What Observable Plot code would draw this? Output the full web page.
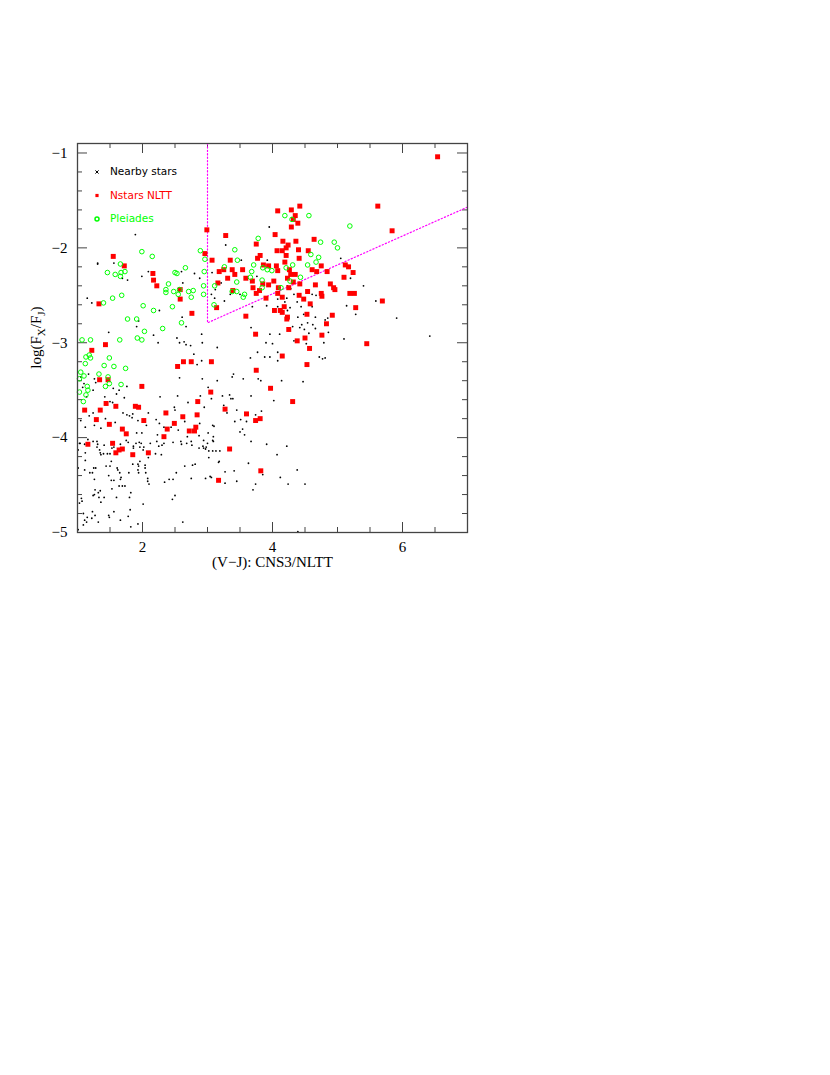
<!DOCTYPE html>
<html><head><meta charset="utf-8">
<script src="https://cdn.jsdelivr.net/npm/d3@7"></script>
<script src="https://cdn.jsdelivr.net/npm/@observablehq/plot@0.6"></script>
<style>
body{margin:0;background:#fff;}
#chart{position:absolute;left:0;top:0;}
</style></head><body><div id="chart"></div>
<script>
// ---- data: [V-J, log(Fx/FJ)] ----
const nearbyStars = [
[1.03,-4.06],[1.11,-4.07],[1.24,-4.04],[1.30,-4.10],[1.31,-4.07],[1.34,-4.13],[1.35,-4.16],[1.36,-4.18],[1.40,-4.17],[1.46,-4.17],[1.50,-4.17],[1.53,-4.11],[1.56,-4.10],[1.66,-4.07],[1.78,-4.05],[1.86,-4.09],[1.90,-4.06],[1.95,-4.05],[1.96,-4.10],[2.02,-4.10],[2.01,-4.13],[2.09,-4.21],[2.22,-4.04],[2.20,-4.17],[2.30,-4.08],[2.29,-4.18],[2.60,-4.07],[2.68,-4.06],[2.75,-4.04],[2.76,-4.08],[2.93,-4.09],[2.94,-4.11],[2.97,-4.12],[3.02,-4.14],[3.09,-4.04],[3.08,-4.14],[3.13,-4.14],[3.19,-4.14],[1.12,-4.16],[1.01,-4.13],
[1.12,-4.24],[1.25,-4.32],[1.28,-4.32],[1.11,-4.34],[1.44,-4.30],[1.50,-4.30],[1.52,-4.25],[1.61,-4.32],[1.62,-4.34],[1.65,-4.37],[1.85,-4.28],[1.94,-4.30],[1.93,-4.34],[1.94,-4.37],[1.96,-4.25],[2.04,-4.29],[2.04,-4.32],[2.05,-4.37],[1.79,-4.37],[1.93,-4.28],[2.65,-4.30],[2.77,-4.29],[2.81,-4.28],[3.18,-4.25],[3.17,-4.26],[3.27,-4.36],[1.01,-4.32],[1.19,-4.37],[1.23,-4.37],
[1.26,-4.44],[1.48,-4.40],[1.52,-4.45],[1.56,-4.45],[1.67,-4.42],[1.66,-4.44],[1.64,-4.51],[1.69,-4.51],[1.73,-4.51],[2.08,-4.43],[2.08,-4.46],[2.10,-4.49],[2.34,-4.47],[2.41,-4.44],[2.47,-4.44],[2.52,-4.37],[2.75,-4.43],[2.97,-4.43],[3.04,-4.41],[3.06,-4.42],[3.27,-4.48],[1.53,-4.54],[1.27,-4.55],[1.32,-4.58],[1.35,-4.56],
[1.26,-4.60],[1.24,-4.61],[1.33,-4.63],[1.41,-4.63],[1.60,-4.63],[1.80,-4.63],[1.82,-4.58],[1.06,-4.64],[1.07,-4.67],[1.03,-4.69],[1.36,-4.68],[2.50,-4.61],[2.46,-4.65],[2.01,-4.70],
[1.23,-4.78],[1.09,-4.80],[1.27,-4.82],[1.11,-4.87],[1.14,-4.89],[1.15,-4.84],[1.22,-4.85],[1.32,-4.89],[1.56,-4.78],[1.48,-4.82],[1.49,-4.84],[1.66,-4.87],[1.78,-4.83],[1.81,-4.76],[1.93,-4.91],[1.82,-4.94],[1.09,-4.92],[1.01,-4.97],[2.62,-4.89],
[3.02,-4.21],[3.41,-4.35],[3.45,-4.46],[3.63,-4.27],[3.67,-4.04],[3.91,-4.07],[4.07,-4.18],[4.22,-4.09],[3.85,-4.39],[4.12,-4.42],[4.24,-4.49],[4.38,-4.34],[4.50,-4.49],[3.74,-4.49],[3.70,-4.55],[4.39,-4.99],
[3.40,-3.33],[3.38,-3.36],[3.55,-3.38],[3.78,-3.38],[3.82,-3.40],[4.14,-3.40],[4.47,-3.41],[3.23,-3.56],[3.34,-3.55],[3.36,-3.59],[3.39,-3.59],[3.67,-3.56],[4.02,-3.61],[3.25,-3.66],[3.30,-3.74],[3.45,-3.71],[3.83,-3.72],[3.74,-3.76],[3.42,-3.83],[3.51,-3.81],[3.60,-3.83],[3.08,-3.87],[3.54,-3.91],[3.50,-3.94],[3.57,-3.97],[3.08,-4.03],[3.06,-3.59],
[1.31,-2.17],[1.69,-2.32],[1.77,-2.34],[1.99,-2.30],[2.09,-2.25],[2.60,-2.25],[2.62,-2.37],[2.80,-2.27],[1.15,-2.53],[1.22,-2.58],[2.26,-2.66],[1.94,-2.77],[1.91,-2.83],[2.24,-3.00],[1.48,-2.89],[2.17,-2.92],[2.67,-3.02],[2.53,-2.95],[2.57,-3.00],[2.79,-3.12],[2.91,-3.19],[2.57,-3.37],[2.92,-3.38],[1.17,-3.33],[1.26,-3.38],[1.28,-3.42],[1.05,-3.36],[1.10,-3.43],[1.24,-3.50],[1.14,-3.57],[1.08,-3.47],[1.55,-3.48],[1.64,-3.50],[1.60,-3.54],[1.76,-3.46],[1.42,-3.57],[1.72,-3.58],[1.50,-3.62],[1.54,-3.63],[1.70,-3.74],[1.24,-3.74],[1.18,-3.77],[1.85,-3.75],[1.76,-3.76],[1.80,-3.77],[1.84,-3.79],[2.09,-3.74],[2.21,-3.81],[2.26,-3.85],[1.93,-3.82],[2.06,-3.87],[1.43,-3.80],[1.26,-3.87],[1.05,-3.82],[1.12,-3.89],[1.36,-3.90],[1.58,-3.84],[2.33,-3.89],[2.44,-3.89],[1.91,-3.95],[1.99,-3.95],[2.23,-3.97],[2.55,-3.92],[2.69,-3.99],[2.87,-3.98],[2.94,-4.03],[1.75,-4.03],[1.98,-4.06],[2.12,-4.06],[1.16,-4.02],[1.04,-4.06],[1.30,-4.04],[1.41,-4.08],[1.86,-4.11],[2.25,-4.09],[2.33,-4.06],[2.47,-4.05],[2.59,-4.04],[2.87,-4.11],[2.98,-4.10],[3.00,-4.06],[3.09,-3.99],[2.49,-3.68],[2.50,-3.71],[2.65,-3.83],[2.88,-3.85],[3.01,-3.95],[3.10,-3.88],[2.27,-3.57],[2.54,-3.56],[2.70,-3.63],[2.89,-3.56],[2.95,-3.68],[3.01,-3.47],[3.15,-3.40],
[3.95,-1.78],[3.28,-1.97],[3.92,-2.13],[3.52,-2.13],[3.76,-2.30],[2.88,-2.32],[3.07,-2.26],[3.21,-2.37],[3.12,-2.44],[3.11,-2.53],[3.26,-2.56],[3.06,-2.49],[3.35,-2.49],[3.50,-2.49],[3.69,-2.62],[3.91,-2.61],[4.08,-2.54],[4.22,-2.53],[4.33,-2.49],[4.11,-2.42],[4.28,-2.43],[4.23,-2.40],[4.61,-2.49],[4.67,-2.50],[4.08,-2.62],[4.19,-2.57],[4.27,-2.63],[4.38,-2.57],[4.44,-2.62],[4.61,-2.62],[4.23,-2.66],[4.39,-2.73],[4.48,-2.70],[4.66,-2.73],[4.54,-2.79],[4.62,-2.81],[4.81,-2.76],[4.85,-2.74],[5.14,-2.61],[5.20,-2.32],[5.05,-2.11],[5.40,-2.40],[5.59,-2.56],[3.96,-2.91],[4.11,-2.91],[4.31,-2.83],[4.42,-2.84],[4.45,-2.81],[4.49,-2.86],[4.56,-2.90],[4.66,-2.85],[4.86,-2.89],[4.79,-3.00],[4.52,-3.01],[4.33,-2.98],[4.00,-3.01],[3.90,-3.00],[3.67,-2.84],[2.91,-2.91],[2.67,-2.83],[2.61,-2.73],[2.74,-3.03],[3.15,-3.05],[2.92,-3.00],[3.77,-3.10],[4.08,-3.10],[4.72,-3.15],[4.77,-3.17],[4.81,-3.16],[3.66,-3.16],[3.88,-3.15],[3.96,-3.15],[2.84,-3.23],[2.64,-2.99],[5.10,-2.96],[5.28,-2.70],[4.08,-3.19],
[1.89,-1.86],[1.31,-2.16],[1.56,-2.16],[5.91,-2.74],[6.42,-2.93]
];
const nstarsNltt = [
[4.42,-1.56],[4.29,-1.60],[4.08,-1.61],[4.35,-1.66],[4.32,-1.70],[4.39,-1.74],[4.29,-1.78],[2.99,-1.81],[3.28,-1.87],[4.04,-1.86],[4.64,-1.91],[4.16,-1.93],[4.36,-1.93],[3.75,-1.96],[4.24,-1.97],[4.21,-2.00],[4.07,-2.03],[4.15,-2.03],[4.40,-2.02],[4.55,-2.03],[2.96,-2.06],[3.81,-2.08],[4.21,-2.08],[3.77,-2.11],[4.41,-2.11],[4.19,-2.15],[3.07,-2.13],[3.35,-2.13],[3.86,-2.18],[3.94,-2.19],[4.06,-2.19],[4.75,-2.19],[5.12,-2.18],[5.17,-2.20],[3.25,-2.23],[3.38,-2.23],[3.54,-2.23],[4.61,-2.23],[4.68,-2.25],[4.84,-2.25],[5.24,-2.26],[4.26,-2.23],[4.08,-2.24],[3.18,-2.25],[3.42,-2.28],[4.28,-2.28],[4.35,-2.28],[4.23,-2.32],[3.59,-2.32],[5.10,-2.31],[3.69,-2.35],[4.02,-2.35],[4.32,-2.36],[4.42,-2.38],[3.85,-2.38],[3.16,-2.37],[3.31,-2.32],[3.70,-2.42],[3.94,-2.39],[4.25,-2.42],[4.66,-2.39],[4.89,-2.38],[4.94,-2.42],[4.96,-2.44],[3.39,-2.45],[3.80,-2.45],[4.09,-2.42],[4.08,-2.48],[4.54,-2.46],[4.41,-2.50],[4.75,-2.48],[4.76,-2.51],[5.19,-2.48],[5.26,-2.48],[4.15,-2.52],[4.48,-2.54],[3.90,-2.53],[3.75,-2.48],[4.58,-2.59],[4.18,-2.62],[5.28,-2.63],[3.14,-2.63],[4.03,-2.66],[4.12,-2.66],[4.15,-2.68],[4.53,-2.70],[4.92,-2.71],[4.23,-2.73],[4.22,-2.75],[2.76,-2.69],[3.59,-2.72],[4.83,-2.80],[4.25,-2.86],[3.74,-2.91],[4.76,-2.92],[4.50,-2.95],[4.38,-2.98],[4.57,-3.06],[5.45,-3.01],[4.15,-3.14],[3.06,-3.20],[2.75,-3.20],[2.63,-3.20],[4.53,-3.23],[3.75,-3.29],
[1.55,-2.09],[1.72,-2.19],[2.16,-2.27],[2.17,-2.34],[2.22,-2.40],[2.58,-2.44],[2.58,-2.54],[1.33,-2.59],[1.43,-3.02],[1.22,-3.08],[2.54,-3.25],[1.34,-3.39],[1.47,-3.39],[1.99,-3.46],[3.05,-3.52],[2.85,-3.62],[1.44,-3.64],[1.59,-3.67],[1.89,-3.67],[1.94,-3.68],[1.11,-3.71],[1.35,-3.71],[2.36,-3.74],[2.62,-3.78],[2.84,-3.76],[2.02,-3.82],[1.29,-3.81],[1.49,-3.86],[2.49,-3.85],[2.38,-3.91],[1.69,-3.91],[2.82,-3.89],[2.72,-3.93],[2.80,-3.93],[1.75,-3.96],[2.33,-3.99],[1.16,-4.07],[1.54,-4.06],[1.69,-4.12],[1.64,-4.13],
[1.59,-4.16],[1.85,-4.18],[2.09,-4.16],[3.17,-4.45],
[3.97,-3.48],[4.31,-3.62],[3.27,-3.70],[3.60,-3.75],[3.81,-3.80],[3.74,-3.82],[3.34,-4.12],[3.82,-4.35],
[5.62,-1.56],[5.84,-1.82],[5.69,-2.56],[6.54,-1.04]
];
const pleiades = [
[1.99,-2.04],[2.15,-2.09],[1.66,-2.17],[1.46,-2.26],[1.58,-2.28],[1.66,-2.30],[1.73,-2.25],[1.67,-2.26],[2.50,-2.26],[2.53,-2.27],[2.40,-2.38],[2.36,-2.44],[2.36,-2.47],[2.48,-2.46],[2.55,-2.49],[2.57,-2.44],[1.68,-2.50],[1.54,-2.53],[1.40,-2.58],[2.01,-2.61],[2.17,-2.66],[2.46,-2.62],[1.77,-2.75],[1.91,-2.75],[2.31,-2.85],[2.03,-2.88],[1.92,-2.95],[1.99,-2.97],[1.65,-2.97],[1.07,-2.97],[1.20,-2.97],[1.13,-3.15],[1.18,-3.13],[1.20,-3.16],[1.12,-3.22],[1.49,-3.16],[1.41,-3.24],[1.56,-3.25],[1.74,-3.27],[1.05,-3.31],[1.33,-3.33],[1.10,-3.35],[1.03,-3.38],[1.47,-3.36],[1.49,-3.43],[1.67,-3.44],[1.43,-3.46],[1.15,-3.46],[1.16,-3.50],[1.03,-3.52],[1.13,-3.55],[1.09,-3.62],
[4.19,-1.66],[4.56,-1.66],[4.30,-1.70],[5.19,-1.77],[4.74,-1.94],[4.95,-1.94],[5.00,-2.00],[3.78,-1.90],[3.42,-2.02],[2.89,-2.03],[2.96,-2.12],[3.46,-2.13],[4.59,-2.07],[4.71,-2.10],[4.67,-2.15],[4.54,-2.18],[4.31,-2.18],[4.21,-2.21],[3.71,-2.18],[3.85,-2.21],[3.92,-2.23],[3.99,-2.24],[3.68,-2.25],[3.26,-2.20],[2.95,-2.25],[2.66,-2.21],[3.66,-2.31],[3.45,-2.36],[3.11,-2.40],[2.94,-2.40],[3.84,-2.34],[3.84,-2.42],[4.13,-2.42],[4.27,-2.35],[4.43,-2.31],[3.38,-2.46],[3.45,-2.46],[3.57,-2.49],[3.55,-2.52],[2.94,-2.49],[2.78,-2.45],[2.71,-2.46],[2.75,-2.52],[3.10,-2.60],[2.60,-2.79]
];
// selection boundary (dotted magenta)
const boundaryX = [3, 3, 7];
const boundaryY = [-0.9, -2.79, -1.57];
// ticks and labels
const xLabelTicks = [2, 4, 6];
const xMinorTicks = [1.5, 2.5, 3, 3.5, 4.5, 5, 5.5, 6.5];
const yLabelTicks = [-1, -2, -3, -4, -5];
const yMajorTicks = [-1, -2, -3, -4];
const yMinorTicks = [-1.2,-1.4,-1.6,-1.8,-2.2,-2.4,-2.6,-2.8,-3.2,-3.4,-3.6,-3.8,-4.2,-4.4,-4.6,-4.8];
const legendLabels = ["Nearby stars", "Nstars NLTT", "Pleiades"];
const xTitle = "(V\u2212J): CNS3/NLTT";

// ---- chart ----
const W = 830, H = 620, mL = 77, mR = 363, mT = 143, mB = 88;
const innerW = W - mL - mR, innerH = H - mT - mB;
const axisColor = "#444";
const boundary = boundaryX.map((x, i) => ({x, y: boundaryY[i]}));
const legendFont = "'DejaVu Sans', sans-serif";
const legendColors = ["#000000", "#ff0000", "#00ff00"];
const legendDy = [28.5, 52, 75.5];
const intFormat = d3.format("d");

const plot = Plot.plot({
  width: W, height: H,
  marginLeft: mL, marginRight: mR, marginTop: mT, marginBottom: mB,
  x: {domain: [1, 7], axis: null},
  y: {domain: [-5, -0.9], axis: null},
  style: {fontFamily: "'Liberation Serif', serif", fontSize: "15px", background: "#fff", color: "#000"},
  marks: [
    // ticks inward on all four sides
    Plot.tickX(xMinorTicks, {x: d => d, insetTop: innerH - 5, stroke: axisColor}),
    Plot.tickX(xLabelTicks, {x: d => d, insetTop: innerH - 10, stroke: axisColor}),
    Plot.tickX(xMinorTicks, {x: d => d, insetBottom: innerH - 5, stroke: axisColor}),
    Plot.tickX(xLabelTicks, {x: d => d, insetBottom: innerH - 10, stroke: axisColor}),
    Plot.tickY(yMinorTicks, {y: d => d, insetRight: innerW - 5, stroke: axisColor}),
    Plot.tickY(yMajorTicks, {y: d => d, insetRight: innerW - 10, stroke: axisColor}),
    Plot.tickY(yMinorTicks, {y: d => d, insetLeft: innerW - 5, stroke: axisColor}),
    Plot.tickY(yMajorTicks, {y: d => d, insetLeft: innerW - 10, stroke: axisColor}),
    Plot.axisX({anchor: "bottom", ticks: xLabelTicks, tickFormat: intFormat, tickSize: 0, tickPadding: 9, label: null, fontSize: 15}),
    Plot.axisY({anchor: "left", ticks: yLabelTicks, tickFormat: intFormat, tickSize: 0, tickPadding: 10, label: null, fontSize: 15}),
    Plot.text([xTitle], {frameAnchor: "bottom", dy: 34, text: d => d, fontSize: 15}),
    // data
    Plot.line(boundary, {x: "x", y: "y", stroke: "#ff00ff", strokeWidth: 1.2, strokeDasharray: "1.2,2.2"}),
    Plot.dot(nearbyStars, {x: d => d[0], y: d => d[1], r: 0.9, fill: "#000"}),
    Plot.dot(nstarsNltt, {x: d => d[0], y: d => d[1], symbol: "square", r: 2.8, fill: "#ff0000"}),
    Plot.dot(pleiades, {x: d => d[0], y: d => d[1], r: 2.3, fill: "none", stroke: "#00ff00", strokeWidth: 1}),
    // legend
    Plot.dot([0], {frameAnchor: "top-left", dx: 19.5, dy: legendDy[0], symbol: "times", r: 1.6, stroke: "#000", strokeWidth: 1}),
    Plot.dot([0], {frameAnchor: "top-left", dx: 19.5, dy: legendDy[1], symbol: "square", r: 1.8, fill: "#ff0000"}),
    Plot.dot([0], {frameAnchor: "top-left", dx: 19.5, dy: legendDy[2], r: 2, fill: "none", stroke: "#00ff00"}),
    ...legendLabels.map((lab, i) => Plot.text([lab], {frameAnchor: "top-left", dx: 32.5, dy: legendDy[i], text: d => d, textAnchor: "start", lineAnchor: "middle", fill: legendColors[i], fontSize: 10.5, fontFamily: legendFont})),
    Plot.frame({stroke: axisColor, strokeWidth: 1.3})
  ]
});

// y-axis title with subscripts
const svg = d3.select(plot);
const t = svg.append("text")
  .attr("transform", `translate(41,${mT + innerH / 2}) rotate(-90)`)
  .attr("text-anchor", "middle")
  .attr("font-family", "'Liberation Serif', serif")
  .attr("font-size", 15)
  .attr("fill", "#000");
t.append("tspan").text("log(F");
t.append("tspan").attr("dy", 4).attr("font-size", 11).text("X");
t.append("tspan").attr("dy", -4).text("/F");
t.append("tspan").attr("dy", 4).attr("font-size", 11).text("J");
t.append("tspan").attr("dy", -4).text(")");

document.getElementById("chart").appendChild(plot);
</script>
</body></html>
